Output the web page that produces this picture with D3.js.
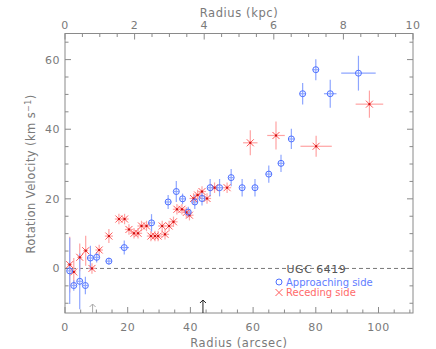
<!DOCTYPE html>
<html>
<head>
<meta charset="utf-8">
<script src="https://cdn.jsdelivr.net/npm/d3@7"></script>
<style>
	body { margin: 0; background: #fff; }
	svg text { font-family: "DejaVu Sans", sans-serif; fill: #7a7a7a; }
</style>
</head>
<body>
<svg id="chart" width="436" height="349"></svg>
<script>
// approaching side (blue circles)
const apprRadius = [1.5, 2.8, 4.7, 6.5, 8.1, 10.1, 14.0, 18.9, 27.6, 32.9, 35.5, 37.5, 39.3, 41.4, 43.7, 46.3, 49.3, 53.0, 56.5, 60.6, 65.0, 68.9, 72.2, 75.8, 80.0, 84.6, 93.6];
const apprVel = [-0.7, -4.9, -3.7, -4.9, 3.0, 3.2, 2.1, 6.0, 13.1, 19.1, 22.1, 20.0, 16.2, 19.1, 20.1, 23.2, 23.2, 26.1, 23.2, 23.2, 27.1, 30.2, 37.2, 50.2, 57.1, 50.2, 56.1];
const apprRadiusErr = [0.8, 0.8, 0.8, 0.8, 0.8, 0.8, 1.0, 1.5, 1.0, 1.0, 0.8, 0.8, 0.8, 0.8, 0.8, 0.8, 0.8, 0.8, 0.8, 0.8, 1.0, 1.0, 1.0, 1.0, 1.0, 2.0, 5.5];
const apprVelErr = [9.5, 1.5, 8.0, 2.5, 3.5, 1.5, 1.0, 2.0, 2.5, 2.0, 3.0, 1.5, 1.5, 2.0, 2.0, 2.5, 2.5, 2.5, 2.5, 2.5, 2.5, 2.5, 2.9, 3.1, 3.0, 4.0, 5.0];

// receding side (red crosses)
const recRadius = [1.5, 2.8, 4.7, 6.6, 8.6, 10.9, 14.0, 17.2, 19.0, 20.4, 22.0, 23.3, 24.4, 26.0, 27.4, 28.7, 29.7, 31.0, 31.9, 33.2, 34.6, 35.7, 37.3, 38.7, 39.7, 41.0, 42.3, 43.7, 45.3, 47.7, 51.7, 59.1, 67.3, 80.1, 97.1];
const recVel = [1.1, -1.0, 3.2, 5.1, 0.0, 5.3, 9.3, 14.2, 14.2, 11.2, 10.1, 10.1, 12.2, 12.2, 9.3, 9.3, 9.3, 12.2, 9.8, 12.2, 13.4, 17.0, 17.0, 16.1, 15.3, 20.1, 21.1, 22.1, 20.1, 23.2, 23.2, 36.1, 38.2, 35.1, 47.2];
const recRadiusErr = [0.8, 0.8, 0.8, 0.8, 1.2, 1.2, 1.3, 1.3, 1.3, 1.3, 1.3, 1.3, 1.3, 1.3, 1.3, 1.3, 1.3, 1.3, 1.3, 1.3, 1.3, 1.3, 1.3, 1.3, 1.3, 1.3, 1.3, 1.3, 1.3, 1.3, 1.3, 2.3, 2.8, 5.0, 4.4];
const recVelErr = [8.0, 4.0, 4.0, 4.3, 1.5, 1.5, 2.0, 1.5, 1.5, 1.5, 1.5, 1.5, 1.5, 1.5, 1.5, 1.5, 1.5, 1.5, 1.5, 1.5, 1.5, 1.5, 1.5, 1.5, 1.5, 1.5, 1.5, 1.5, 1.5, 1.5, 1.5, 3.6, 4.0, 3.0, 3.9];

// markers at the bottom axis
const arrowRadius = [8.8, 44.0];

const xTicks = [0, 20, 40, 60, 80, 100];
const kpcTicks = [0, 2, 4, 6, 8, 10];
const yTicks = [0, 20, 40, 60];

const svg = d3.select("#chart");
const plotLeft = 65, plotRight = 413, plotTop = 33.5, plotBottom = 313;

const x = d3.scaleLinear().domain([0, 111]).range([plotLeft, plotRight]);
const xKpc = d3.scaleLinear().domain([0, 10]).range([plotLeft, plotRight]);
const y = d3.scaleLinear().domain([-12.8, 67.5]).range([plotBottom, plotTop]);

const axisColor = "#8a8a8a";

// frame
svg.append("rect")
	.attr("x", plotLeft).attr("y", plotTop)
	.attr("width", plotRight - plotLeft).attr("height", plotBottom - plotTop)
	.attr("fill", "none").attr("stroke", axisColor);

// ticks (pointing inwards, IDL style)
const ticks = svg.append("g").attr("stroke", axisColor);
d3.range(0, 111, 5).forEach(v => {
	const len = v % 20 === 0 ? 6 : 3.5;
	ticks.append("line").attr("x1", x(v)).attr("x2", x(v)).attr("y1", plotBottom).attr("y2", plotBottom - len);
});
d3.range(0, 10.01, 0.5).forEach(v => {
	const len = Math.abs(v % 2) < 1e-6 ? 6 : 3.5;
	ticks.append("line").attr("x1", xKpc(v)).attr("x2", xKpc(v)).attr("y1", plotTop).attr("y2", plotTop + len);
});
d3.range(-10, 66, 5).forEach(v => {
	const len = v % 20 === 0 ? 6 : 3.5;
	ticks.append("line").attr("x1", plotLeft).attr("x2", plotLeft + len).attr("y1", y(v)).attr("y2", y(v));
	ticks.append("line").attr("x1", plotRight).attr("x2", plotRight - len).attr("y1", y(v)).attr("y2", y(v));
});

// tick labels
svg.append("g").selectAll("text").data(xTicks).join("text")
	.attr("x", d => x(d)).attr("y", 331)
	.attr("text-anchor", "middle").attr("font-size", 11).attr("letter-spacing", 0.5)
	.text(d => d);
svg.append("g").selectAll("text").data(kpcTicks).join("text")
	.attr("x", d => xKpc(d)).attr("y", 29)
	.attr("text-anchor", "middle").attr("font-size", 11).attr("letter-spacing", 0.5)
	.text(d => d);
svg.append("g").selectAll("text").data(yTicks).join("text")
	.attr("x", plotLeft - 5).attr("y", d => y(d) + 4)
	.attr("text-anchor", "end").attr("font-size", 11).attr("letter-spacing", 0.5)
	.text(d => d);

// axis titles
svg.append("text").attr("x", 239).attr("y", 347)
	.attr("text-anchor", "middle").attr("font-size", 11.5).attr("letter-spacing", 0.6)
	.text("Radius (arcsec)");
svg.append("text").attr("x", 239).attr("y", 17)
	.attr("text-anchor", "middle").attr("font-size", 11.5).attr("letter-spacing", 0.6)
	.text("Radius (kpc)");
const yTitle = svg.append("text")
	.attr("transform", "translate(35,174) rotate(-90)")
	.attr("text-anchor", "middle").attr("font-size", 11.5).attr("letter-spacing", 0.4);
yTitle.append("tspan").text("Rotation Velocity (km s");
yTitle.append("tspan").attr("dy", -4).attr("font-size", 8).text("−1");
yTitle.append("tspan").attr("dy", 4).text(")");

// zero line
svg.append("line")
	.attr("x1", plotLeft).attr("x2", plotRight).attr("y1", y(0)).attr("y2", y(0))
	.attr("stroke", "#777").attr("stroke-dasharray", "4,3");

svg.append("text").attr("x", x(80.2)).attr("y", y(0) + 5)
	.attr("text-anchor", "middle").attr("font-size", 11).attr("letter-spacing", 0.5)
	.style("fill", "#555")
	.text("UGC 6419");

// arrows at bottom
const arrowColors = ["#aaa", "#222"];
const arrowLen = [9, 13];
arrowRadius.forEach((r, i) => {
	const g = svg.append("g").attr("stroke", arrowColors[i]).attr("fill", "none");
	const tipY = plotBottom - arrowLen[i];
	g.append("line").attr("x1", x(r)).attr("x2", x(r)).attr("y1", plotBottom).attr("y2", tipY);
	g.append("path").attr("d", `M${x(r) - 3},${tipY + 3}L${x(r)},${tipY}L${x(r) + 3},${tipY + 3}`);
});

const appr = apprRadius.map((r, i) => ({ r, v: apprVel[i], er: apprRadiusErr[i], ev: apprVelErr[i] }));
const rec = recRadius.map((r, i) => ({ r, v: recVel[i], er: recRadiusErr[i], ev: recVelErr[i] }));

function errorBars(data, color) {
	const g = svg.append("g").attr("stroke", color).attr("stroke-width", 1.2);
	g.selectAll(".ev").data(data).join("line").attr("class", "ev")
		.attr("x1", d => x(d.r)).attr("x2", d => x(d.r))
		.attr("y1", d => y(d.v - d.ev)).attr("y2", d => y(d.v + d.ev));
	g.selectAll(".er").data(data).join("line").attr("class", "er")
		.attr("x1", d => x(d.r - d.er)).attr("x2", d => x(d.r + d.er))
		.attr("y1", d => y(d.v)).attr("y2", d => y(d.v));
}

errorBars(rec, "#ffa3a3");
errorBars(appr, "#8ea6ff");

svg.append("g").selectAll("path").data(rec).join("path")
	.attr("d", d => {
		const cx = x(d.r), cy = y(d.v), s = 3.5;
		return `M${cx - s},${cy - s}L${cx + s},${cy + s}M${cx - s},${cy + s}L${cx + s},${cy - s}`;
	})
	.attr("stroke", "#ff5a5a").attr("stroke-width", 1).attr("fill", "none");
svg.append("g").selectAll("rect").data(rec).join("rect")
	.attr("x", d => x(d.r) - 1).attr("y", d => y(d.v) - 1)
	.attr("width", 2).attr("height", 2).attr("fill", "#d01010");

svg.append("g").selectAll("circle").data(appr).join("circle")
	.attr("cx", d => x(d.r)).attr("cy", d => y(d.v)).attr("r", 3)
	.attr("fill", "none").attr("stroke", "#4d70ff").attr("stroke-width", 1);

// legend
const lg = svg.append("g");
lg.append("circle").attr("cx", 279).attr("cy", 282).attr("r", 3)
	.attr("fill", "none").attr("stroke", "#4d70ff");
lg.append("text").attr("x", 286).attr("y", 286).attr("font-size", 10)
	.style("fill", "#5f7dff").text("Approaching side");
lg.append("path").attr("d", "M275.5,289L282.5,296M275.5,296L282.5,289")
	.attr("stroke", "#ff5a5a").attr("fill", "none");
lg.append("text").attr("x", 286).attr("y", 296).attr("font-size", 10)
	.style("fill", "#ff6a6a").text("Receding side");
</script>
</body>
</html>
